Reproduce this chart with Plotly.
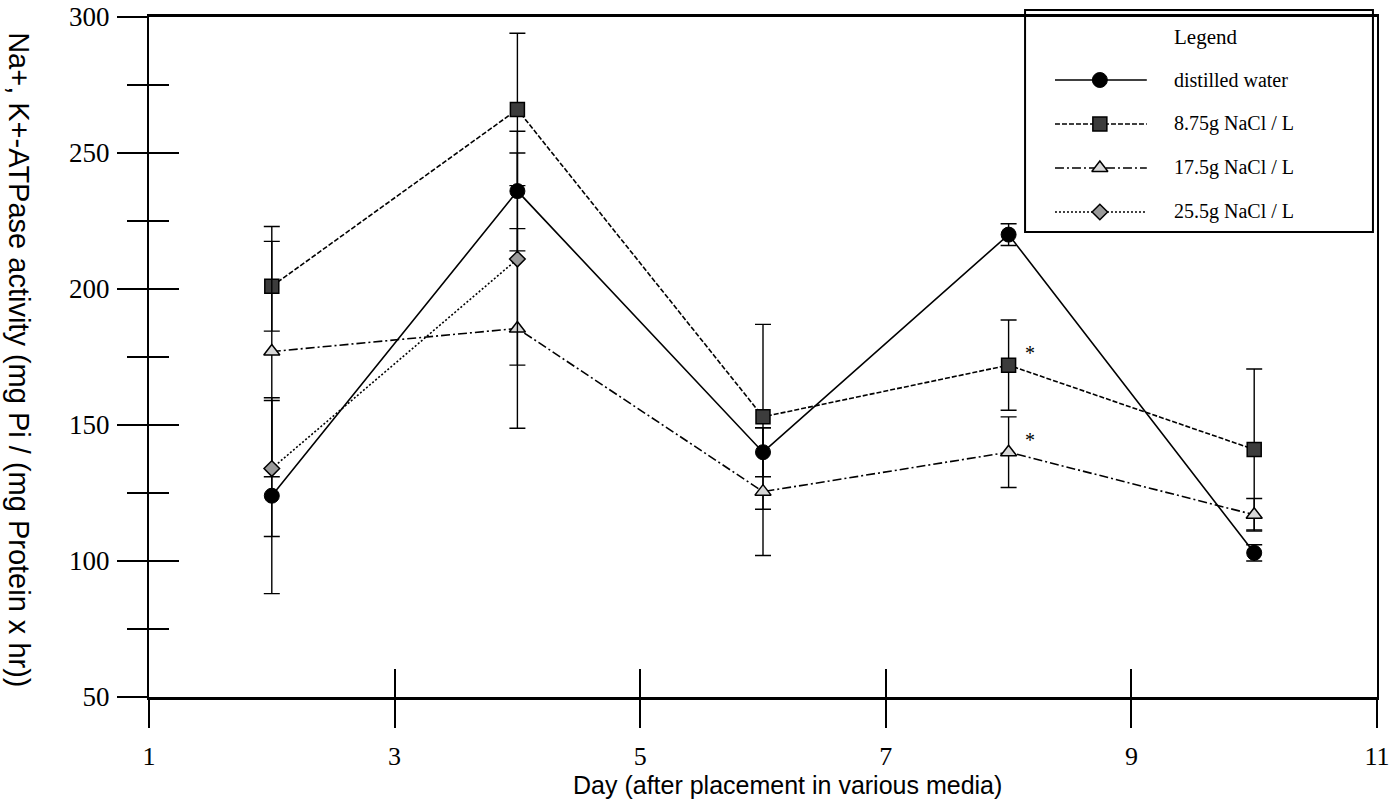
import plotly.graph_objects as go

# Na+, K+-ATPase activity by day and medium
days = [2, 4, 6, 8, 10]
distilled = [124, 236, 140, 220, 103]
distilled_err = [36, 22, 9, 4, 3]
nacl_875 = [201, 266, 153, 172, 141]
nacl_875_err = [16.5, 28, 34, 16.6, 29.6]
nacl_175 = [177, 185.5, 125.5, 140, 117]
nacl_175_err = [46, 36.7, 23.5, 13, 6]
days_255 = [2, 4]
nacl_255 = [134, 211]
nacl_255_err = [25, 39]

x_ticks = [1, 3, 5, 7, 9, 11]
y_ticks = [50, 100, 150, 200, 250, 300]
legend_names = ["distilled water", "8.75g NaCl / L", "17.5g NaCl / L", "25.5g NaCl / L"]

SERIF = "Liberation Serif, Times New Roman, serif"
SANS = "Liberation Sans Narrow, Liberation Sans, Arial, sans-serif"

series = [
    dict(x=days, y=distilled, err=distilled_err, dash="solid",
         marker=dict(symbol="circle", size=15, color="black", line=dict(color="black", width=1))),
    dict(x=days, y=nacl_875, err=nacl_875_err, dash="5px,2px",
         marker=dict(symbol="square", size=14, color="#3c3c3c", line=dict(color="black", width=1.5))),
    dict(x=days, y=nacl_175, err=nacl_175_err, dash="9px,3px,2px,3px",
         marker=dict(symbol="triangle-up", size=14, color="#d8d8d8", line=dict(color="black", width=1.5))),
    dict(x=days_255, y=nacl_255, err=nacl_255_err, dash="2px,2px",
         marker=dict(symbol="diamond", size=12, color="#9a9a9a", line=dict(color="black", width=1.5))),
]

fig = go.Figure()

for name, s in zip(legend_names, series):
    fig.add_trace(go.Scatter(
        x=s["x"], y=s["y"], mode="lines+markers", name=name, showlegend=False,
        line=dict(color="black", width=1.6, dash=s["dash"]),
        marker=s["marker"],
        error_y=dict(type="data", array=s["err"], visible=True,
                     color="black", thickness=1.4, width=8),
        cliponaxis=False,
    ))

# Invisible trace so the inner-tick overlay axes get drawn
fig.add_trace(go.Scatter(x=[x_ticks[0]], y=[y_ticks[0]], xaxis="x3", yaxis="y3",
                         mode="markers", marker=dict(opacity=0), showlegend=False,
                         hoverinfo="skip"))

# Custom legend drawn on its own small axes
for i, s in enumerate(series):
    fig.add_trace(go.Scatter(
        x=[0.086, 0.35], y=[i, i], mode="lines", xaxis="x2", yaxis="y2",
        line=dict(color="black", width=1.6, dash=s["dash"]), showlegend=False,
        hoverinfo="skip",
    ))
    fig.add_trace(go.Scatter(
        x=[0.215], y=[i], mode="markers", xaxis="x2", yaxis="y2",
        marker=s["marker"], showlegend=False, hoverinfo="skip",
    ))
    fig.add_annotation(x=0.422, y=i, xref="x2", yref="y2", text=legend_names[i],
                       showarrow=False, xanchor="left", yanchor="middle",
                       font=dict(family=SERIF, size=20, color="black"))

fig.add_annotation(x=0.86, y=0.9706, xref="paper", yref="paper", text="Legend",
                   showarrow=False, xanchor="center", yanchor="middle",
                   font=dict(family=SERIF, size=21, color="black"))
fig.add_shape(type="rect", xref="paper", yref="paper",
              x0=0.7134, x1=0.9967, y0=0.6838, y1=1.0103,
              line=dict(color="black", width=2), fillcolor="rgba(0,0,0,0)", layer="above")

# Significance markers at day 8
for vals in (nacl_875, nacl_175):
    fig.add_annotation(x=days[3], y=vals[3], xref="x", yref="y", text="*",
                       showarrow=False, xshift=21, yshift=12,
                       font=dict(family=SERIF, size=20, color="black"))

# Axis titles
fig.add_annotation(x=0.52, y=-0.13, xref="paper", yref="paper",
                   text="Day (after placement in various media)", showarrow=False,
                   xanchor="center", yanchor="middle",
                   font=dict(family=SANS, size=25, color="black"))
fig.add_annotation(x=-0.106, y=0.4956, xref="paper", yref="paper",
                   text="Na+, K+-ATPase activity (mg Pi / (mg Protein x hr))",
                   showarrow=False, textangle=90, xanchor="center", yanchor="middle",
                   font=dict(family=SANS, size=29, color="black"))

axis_common = dict(showgrid=False, zeroline=False, tickcolor="black", tickwidth=1.5,
                   automargin=False)

fig.update_layout(
    width=1396, height=809,
    margin=dict(l=149, r=19, t=17, b=112),
    paper_bgcolor="white", plot_bgcolor="white",
    xaxis=dict(range=[1, 11], tickvals=x_ticks, ticks="outside", ticklen=28,
               showline=True, linecolor="black", linewidth=2.5, mirror=True,
               tickfont=dict(family=SERIF, size=26, color="black"),
               ticklabelstandoff=6, **axis_common),
    yaxis=dict(range=[50, 300], tickvals=y_ticks, ticks="outside", ticklen=30,
               showline=True, linecolor="black", linewidth=2, mirror=True,
               tickfont=dict(family=SERIF, size=27, color="black"),
               ticklabelstandoff=2,
               minor=dict(dtick=25, ticks="outside", ticklen=20, tickcolor="black", tickwidth=1.5),
               **axis_common),
    xaxis3=dict(range=[1, 11], tickvals=x_ticks, ticks="inside", ticklen=28,
                overlaying="x", anchor="y3", showticklabels=False, showline=False,
                **axis_common),
    yaxis3=dict(range=[50, 300], tickvals=y_ticks, ticks="inside", ticklen=30,
                overlaying="y", anchor="x3", showticklabels=False, showline=False,
                minor=dict(dtick=25, ticks="inside", ticklen=20, tickcolor="black", tickwidth=1.5),
                **axis_common),
    xaxis2=dict(domain=[0.7134, 0.9967], range=[0, 1], visible=False, fixedrange=True,
                anchor="y2", automargin=False),
    yaxis2=dict(domain=[0.6809, 0.9397], range=[3.5, -0.5], visible=False, fixedrange=True,
                anchor="x2", automargin=False),
    showlegend=False,
)

fig.write_html("out.html")
